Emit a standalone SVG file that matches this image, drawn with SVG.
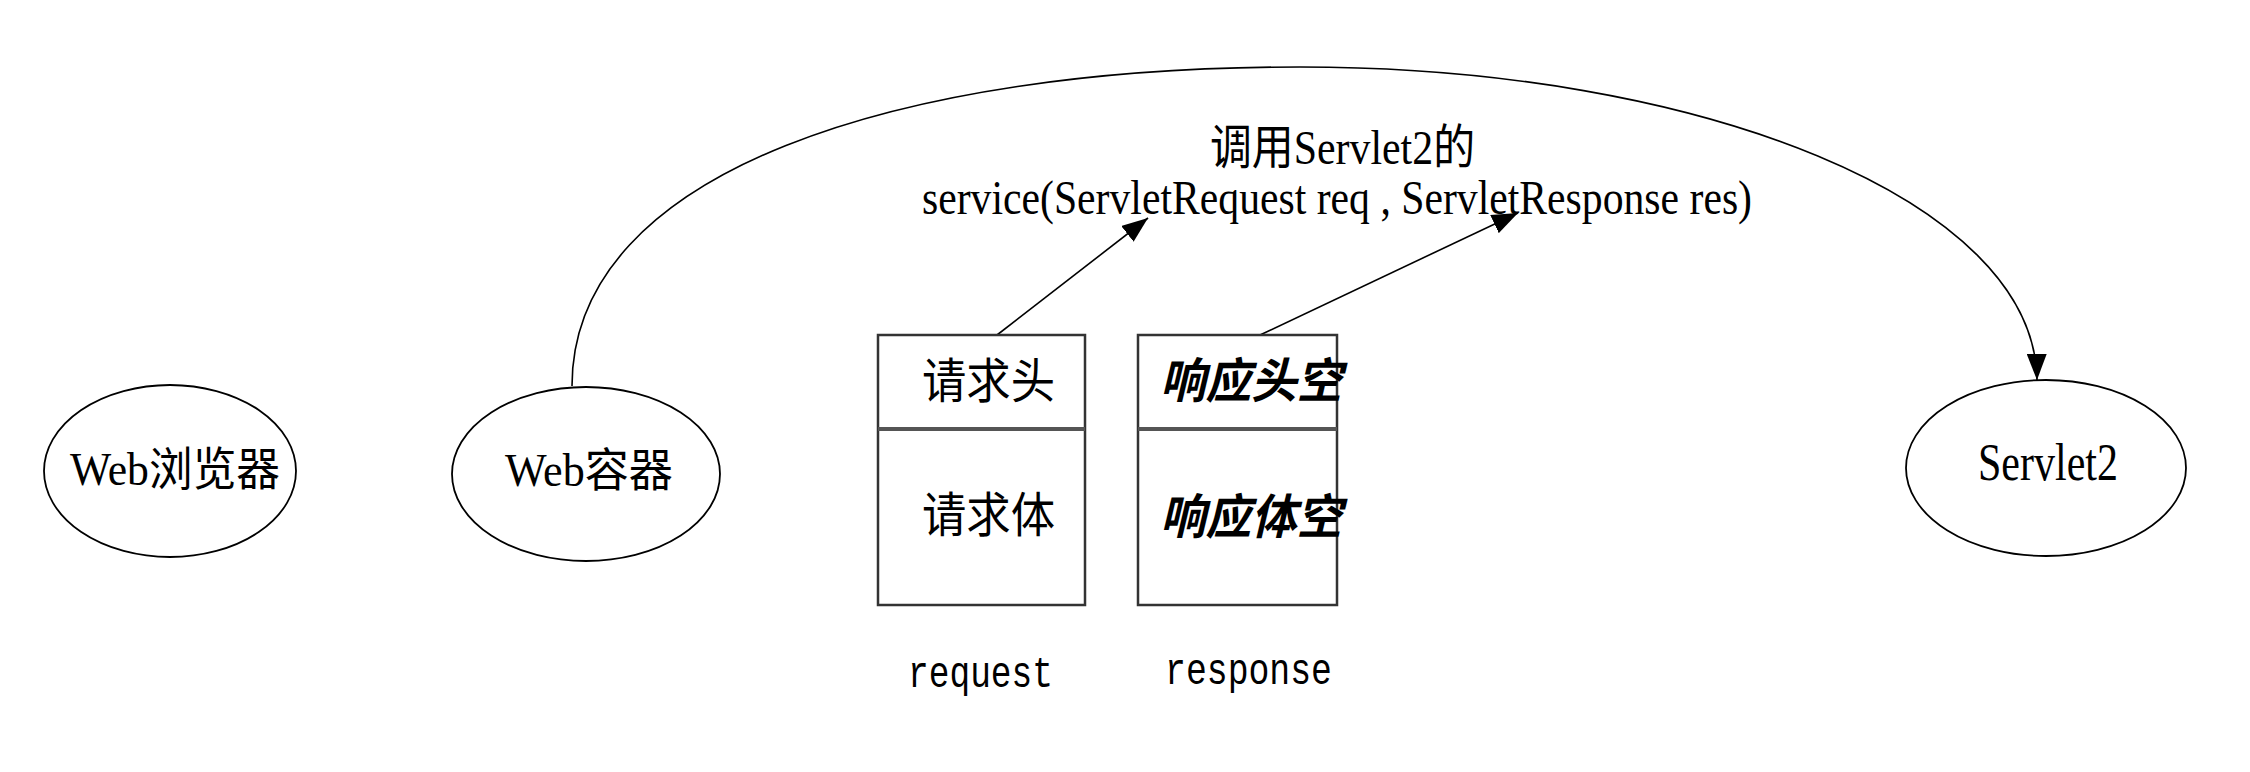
<svg xmlns="http://www.w3.org/2000/svg" width="2250" height="772" viewBox="0 0 2250 772">
<style>
  .node { fill: #ffffff; stroke: #000000; stroke-width: 1.8; }
  .box { fill: #ffffff; stroke: #333333; stroke-width: 2.5; }
  .div { stroke: #555555; stroke-width: 4; }
  .edge { fill: none; stroke: #000000; stroke-width: 1.6; }
  .serif { font-family: "Liberation Serif", "Noto Sans CJK SC", serif; fill: #000000; }
  .cjk { font-family: "Noto Sans CJK SC", "Liberation Serif", sans-serif; fill: #000000; }
  .mono { font-family: "Liberation Mono", monospace; fill: #000000; }
</style>
<defs>
  <marker id="arrow" markerUnits="userSpaceOnUse" markerWidth="28" markerHeight="20" refX="26" refY="10" orient="auto">
    <path d="M0,0 L26,10 L0,20 z" fill="#000000"/>
  </marker>
</defs>
<rect width="2250" height="772" fill="#ffffff"/>

<g id="connectors">
  <path class="edge" d="M572,386 C572,170 900,67 1300,67 C1700,67 2035,200 2037,380" marker-end="url(#arrow)"/>
  <line class="edge" x1="997" y1="335" x2="1148" y2="218" marker-end="url(#arrow)"/>
  <line class="edge" x1="1260" y1="335" x2="1518" y2="213" marker-end="url(#arrow)"/>
</g>

<g id="label">
  <text class="serif" x="1210" y="164" font-size="48" textLength="265" lengthAdjust="spacingAndGlyphs">调用Servlet2的</text>
  <text class="serif" x="922" y="214" font-size="48" textLength="830" lengthAdjust="spacingAndGlyphs">service(ServletRequest req , ServletResponse res)</text>
</g>

<g id="web-browser">
  <ellipse class="node" cx="170" cy="471" rx="126" ry="86"/>
  <text class="serif" x="70" y="485" font-size="46" textLength="210" lengthAdjust="spacingAndGlyphs">Web浏览器</text>
</g>

<g id="web-container">
  <ellipse class="node" cx="586" cy="474" rx="134" ry="87"/>
  <text class="serif" x="505" y="486" font-size="46" textLength="168" lengthAdjust="spacingAndGlyphs">Web容器</text>
</g>

<g id="servlet2">
  <ellipse class="node" cx="2046" cy="468" rx="140" ry="88"/>
  <text class="serif" x="1978" y="480" font-size="52" textLength="140" lengthAdjust="spacingAndGlyphs">Servlet2</text>
</g>

<g id="request">
  <rect class="box" x="878" y="335" width="207" height="270"/>
  <line class="div" x1="878" y1="429" x2="1085" y2="429"/>
  <text class="cjk" x="922" y="398" font-size="48" textLength="133" lengthAdjust="spacingAndGlyphs">请求头</text>
  <text class="cjk" x="922" y="532" font-size="48" textLength="133" lengthAdjust="spacingAndGlyphs">请求体</text>
  <text class="mono" x="908" y="687" font-size="44" textLength="145" lengthAdjust="spacingAndGlyphs">request</text>
</g>

<g id="response">
  <rect class="box" x="1138" y="335" width="199" height="270"/>
  <line class="div" x1="1138" y1="429" x2="1337" y2="429"/>
  <text class="cjk" x="1160" y="398" font-size="48" font-style="italic" font-weight="bold" textLength="182" lengthAdjust="spacingAndGlyphs">响应头空</text>
  <text class="cjk" x="1160" y="534" font-size="48" font-style="italic" font-weight="bold" textLength="182" lengthAdjust="spacingAndGlyphs">响应体空</text>
  <text class="mono" x="1165" y="684" font-size="44" textLength="167" lengthAdjust="spacingAndGlyphs">response</text>
</g>
</svg>
